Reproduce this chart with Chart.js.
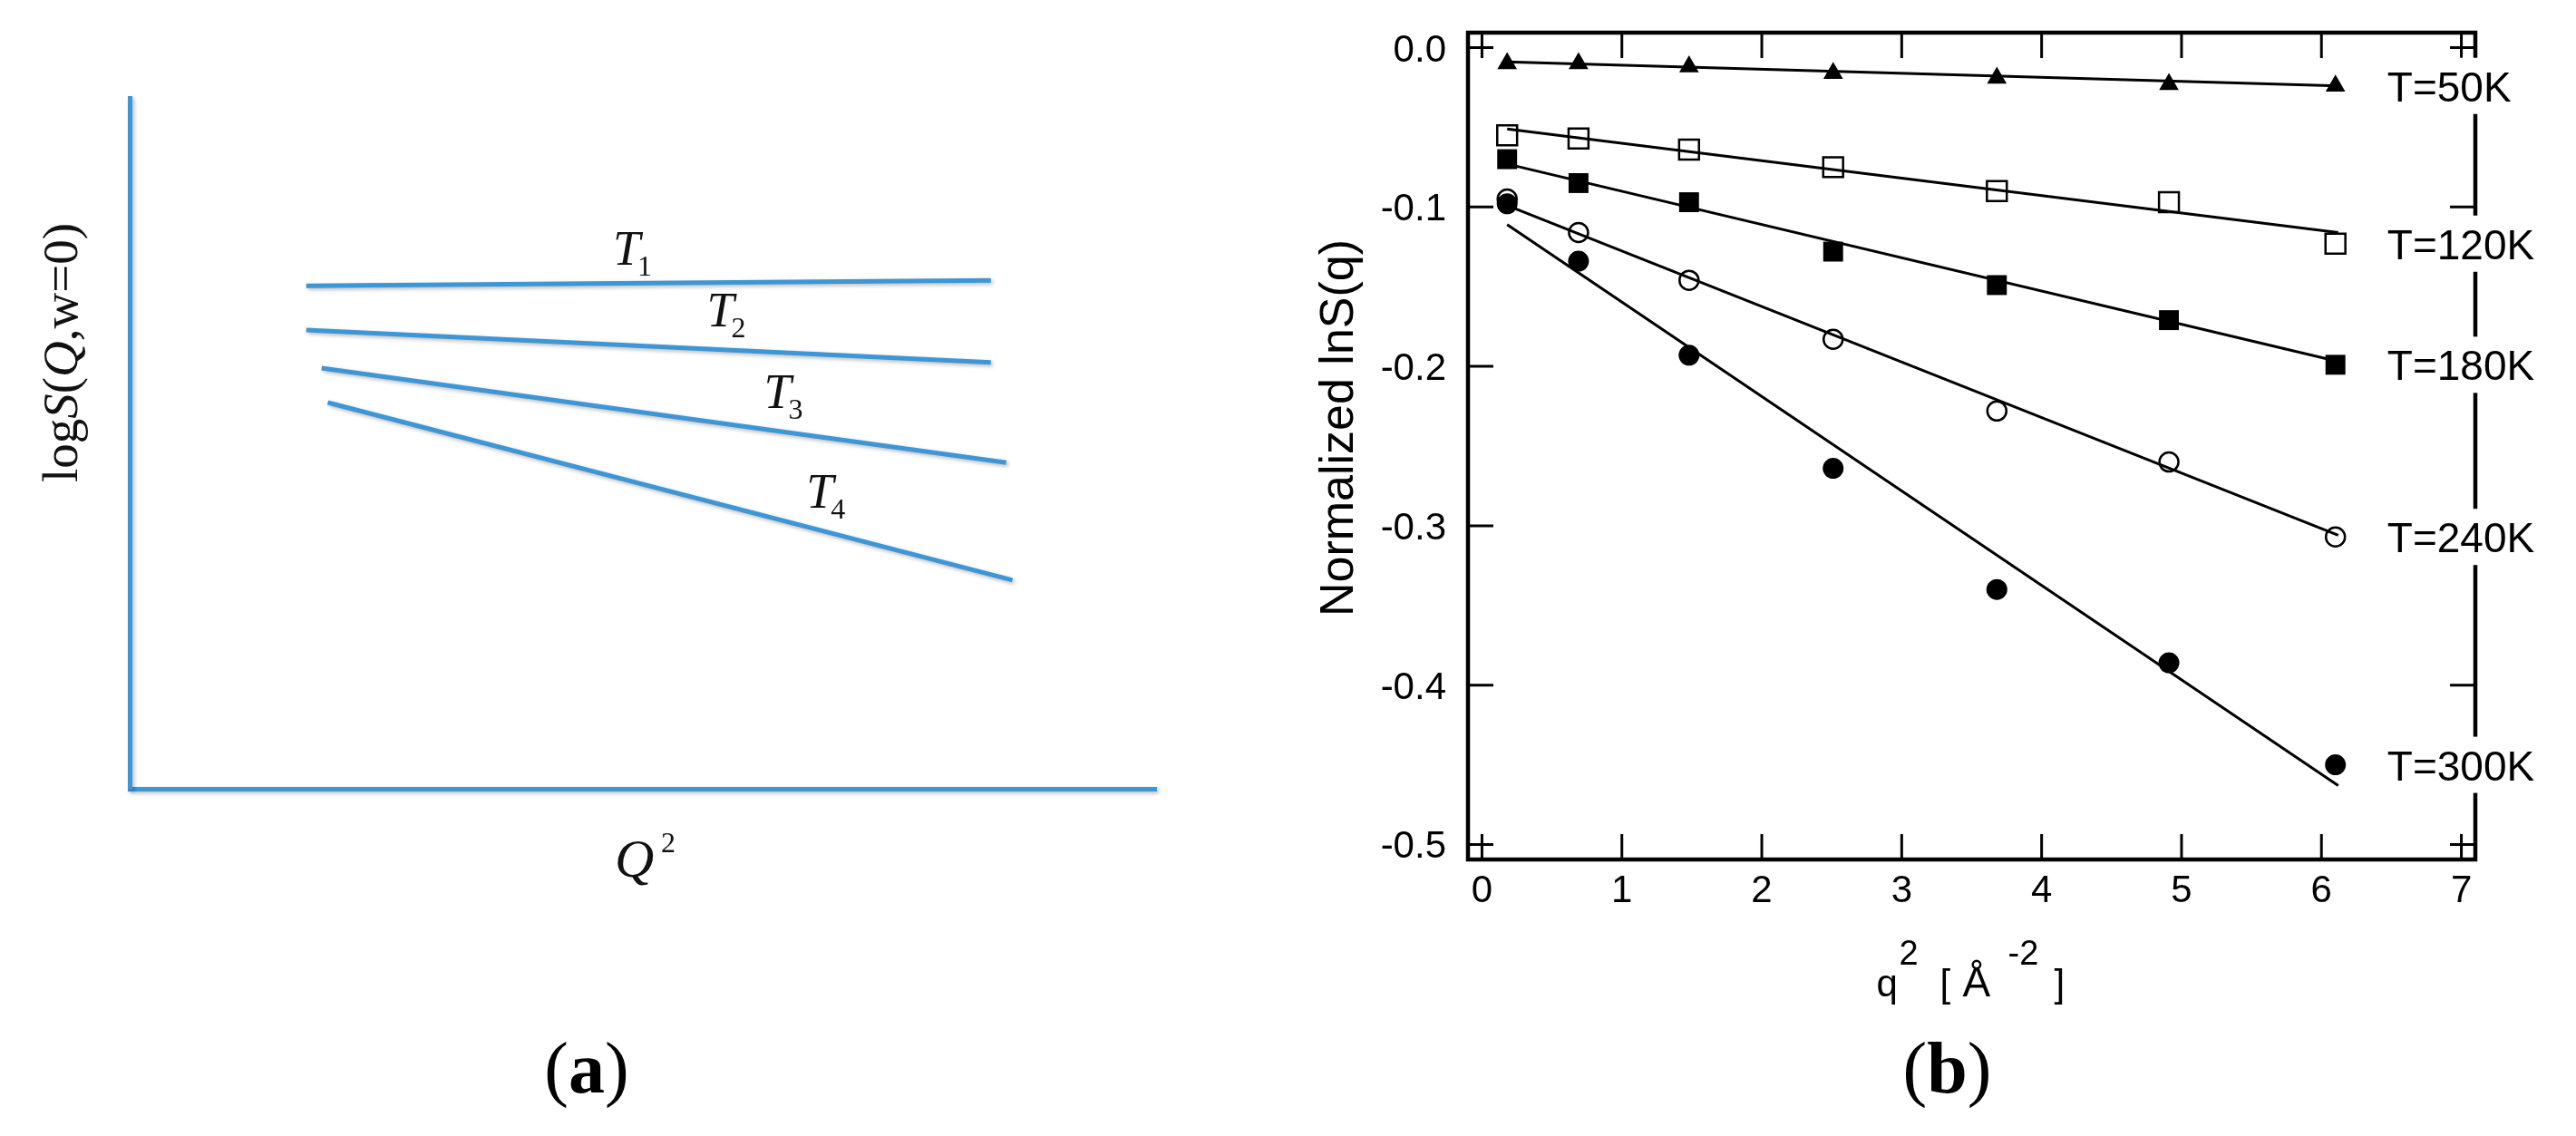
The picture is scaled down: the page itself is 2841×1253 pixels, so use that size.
<!DOCTYPE html>
<html>
<head>
<meta charset="utf-8">
<script src="https://cdn.jsdelivr.net/npm/chart.js@4.4.1/dist/chart.umd.min.js"></script>
<style>
html, body { margin:0; padding:0; background:#fff; }
#quadro { position:relative; width:2841px; height:1253px; overflow:hidden; background:#fff; }
#esquema { position:absolute; left:0; top:0; }
#grafico { position:absolute; left:1420px; top:0; }
</style>
</head>
<body>
<div id="quadro">
  <canvas id="esquema" width="1420" height="1253"></canvas>
  <canvas id="grafico" width="1421" height="1253"></canvas>
</div>
<script>
// --- Painel (a): esquema (coordenadas normalizadas 0..1) ---
const esquemaNomes   = ['1', '2', '3', '4'];
const esquemaInicioX = [0.172, 0.172, 0.187, 0.193];
const esquemaInicioY = [0.728, 0.664, 0.609, 0.559];
const esquemaFimX    = [0.839, 0.839, 0.854, 0.860];
const esquemaFimY    = [0.736, 0.617, 0.472, 0.302];

// --- Painel (b): dados medidos ---
const q2 = [0.18, 0.69, 1.48, 2.51, 3.68, 4.91, 6.10];
const temperaturas = ['T=50K', 'T=120K', 'T=180K', 'T=240K', 'T=300K'];
const lnS50  = [-0.010, -0.010, -0.012, -0.016, -0.019, -0.023, -0.024];
const lnS120 = [-0.055, -0.057, -0.064, -0.075, -0.090, -0.097, -0.123];
const lnS180 = [-0.070, -0.085, -0.097, -0.128, -0.149, -0.171, -0.199];
const lnS240 = [-0.095, -0.116, -0.146, -0.183, -0.228, -0.260, -0.307];
const lnS300 = [-0.098, -0.134, -0.193, -0.264, -0.340, -0.386, -0.450];

// retas de ajuste (extremos)
const ajusteX   = [0.18, 6.12];
const ajuste50  = [-0.009, -0.024];
const ajuste120 = [-0.051, -0.116];
const ajuste180 = [-0.073, -0.197];
const ajuste240 = [-0.099, -0.306];
const ajuste300 = [-0.111, -0.463];

const ticksX = [0, 1, 2, 3, 4, 5, 6, 7];
const ticksY = [0.0, -0.1, -0.2, -0.3, -0.4, -0.5];

const fonteSans  = '"Liberation Sans", Arial, sans-serif';
const fonteSerif = '"Liberation Serif", "Times New Roman", serif';
const azul = '#3d96d6';

function pontos(xs, ys) {
    return xs.map((v, i) => ({x: v, y: ys[i]}));
}

function rotuloPainel(ctx, letra, cx, base) {
    const normal = '80px ' + fonteSerif, negrito = 'bold 80px ' + fonteSerif;
    ctx.font = normal; const w1 = ctx.measureText('(').width;
    ctx.font = negrito; const w2 = ctx.measureText(letra).width;
    let x = cx - (2 * w1 + w2) / 2;
    ctx.textAlign = 'left';
    ctx.font = normal; ctx.fillText('(', x, base); x += w1;
    ctx.font = negrito; ctx.fillText(letra, x, base); x += w2;
    ctx.font = normal; ctx.fillText(')', x, base);
}

// --- Grafico (a) ---
const sombraPlugin = {
    id: 'sombra',
    beforeDraw(chart) {
        const ctx = chart.ctx;
        ctx.save();
        ctx.shadowColor = 'rgba(0,0,0,0.28)';
        ctx.shadowBlur = 4;
        ctx.shadowOffsetX = 2;
        ctx.shadowOffsetY = 2;
    },
    afterDraw(chart) {
        chart.ctx.restore();
    }
};

const textoEsquemaPlugin = {
    id: 'textoEsquema',
    afterDraw(chart) {
        const {ctx, chartArea: a, scales: {x, y}} = chart;
        const fracRotulo = [0.468, 0.605, 0.666, 0.719];
        const acima = [20, 26, 25, 25];
        ctx.save();
        ctx.fillStyle = '#111';
        ctx.textBaseline = 'alphabetic';
        esquemaNomes.forEach((n, i) => {
            const x0 = x.getPixelForValue(esquemaInicioX[i]), y0 = y.getPixelForValue(esquemaInicioY[i]);
            const x1 = x.getPixelForValue(esquemaFimX[i]), y1 = y.getPixelForValue(esquemaFimY[i]);
            const f = fracRotulo[i];
            const px = x0 + (x1 - x0) * f;
            const py = y0 + (y1 - y0) * f - acima[i];
            ctx.font = 'italic 54px ' + fonteSerif;
            ctx.textAlign = 'center';
            ctx.fillText('T', px, py);
            const wT = ctx.measureText('T').width;
            ctx.font = '32px ' + fonteSerif;
            ctx.textAlign = 'left';
            ctx.fillText(n, px + wT / 2 - 3, py + 12);
        });

        // titulo do eixo y: logS(Q,w=0)
        const partes = [['log', ''], ['S', 'italic '], ['(', ''], ['Q', 'italic '], [',w=0)', '']];
        const tam = '55px ';
        let total = 0;
        partes.forEach(p => { ctx.font = p[1] + tam + fonteSerif; total += ctx.measureText(p[0]).width; });
        ctx.save();
        ctx.translate(a.left - 58, a.top + 281);
        ctx.rotate(-Math.PI / 2);
        ctx.textAlign = 'left';
        let xx = -total / 2;
        partes.forEach(p => {
            ctx.font = p[1] + tam + fonteSerif;
            ctx.fillText(p[0], xx, 0);
            xx += ctx.measureText(p[0]).width;
        });
        ctx.restore();

        // titulo do eixo x: Q^2
        ctx.textAlign = 'left';
        ctx.font = 'italic 60px ' + fonteSerif;
        ctx.fillText('Q', a.left + 535, a.bottom + 97);
        ctx.font = '32px ' + fonteSerif;
        ctx.fillText('2', a.left + 586, a.bottom + 70);

        ctx.fillStyle = '#000';
        rotuloPainel(ctx, 'a', a.left + 504, a.bottom + 335);
        ctx.restore();
    }
};

const conjuntosEsquema = esquemaNomes.map((n, i) => ({
    label: 'T' + n,
    data: pontos([esquemaInicioX[i], esquemaFimX[i]], [esquemaInicioY[i], esquemaFimY[i]]),
    showLine: true,
    pointRadius: 0,
    borderColor: azul,
    borderWidth: 5
}));

new Chart(document.getElementById('esquema'), {
    type: 'scatter',
    data: { datasets: conjuntosEsquema },
    options: {
        responsive: false,
        animation: false,
        devicePixelRatio: 1,
        layout: { padding: { left: 0, right: 145, top: 108, bottom: 0 } },
        plugins: { legend: { display: false }, tooltip: { enabled: false } },
        scales: {
            x: {
                type: 'linear', min: 0, max: 1,
                grid: { display: false },
                ticks: { display: false },
                border: { display: true, color: azul, width: 5 },
                afterFit(s) { s.height = 383; }
            },
            y: {
                type: 'linear', min: 0, max: 1,
                grid: { display: false },
                ticks: { display: false },
                border: { display: true, color: azul, width: 5 },
                afterFit(s) { s.width = 143; }
            }
        }
    },
    plugins: [sombraPlugin, textoEsquemaPlugin]
});

// --- Grafico (b) ---
const series  = [lnS50, lnS120, lnS180, lnS240, lnS300];
const ajustes = [ajuste50, ajuste120, ajuste180, ajuste240, ajuste300];
const marcadores = [
    { pointStyle: 'triangle', pointRadius: 12.5, pointBackgroundColor: '#000', pointBorderWidth: 0 },
    { pointStyle: 'rect', pointRadius: 15.5, pointBackgroundColor: 'rgba(0,0,0,0)', pointBorderWidth: 2.5 },
    { pointStyle: 'rect', pointRadius: 15.5, pointBackgroundColor: '#000', pointBorderWidth: 0 },
    { pointStyle: 'circle', pointRadius: 10.5, pointBackgroundColor: 'rgba(0,0,0,0)', pointBorderWidth: 2.5 },
    { pointStyle: 'circle', pointRadius: 11.5, pointBackgroundColor: '#000', pointBorderWidth: 0 }
];
const posRotuloX = 6.47;

const conjuntos = [];
series.forEach((s, i) => {
    conjuntos.push(Object.assign({
        label: temperaturas[i],
        data: pontos(q2, s),
        showLine: false,
        borderColor: '#000',
        pointBorderColor: '#000'
    }, marcadores[i]));
    conjuntos.push({
        label: temperaturas[i] + ' ajuste',
        data: pontos(ajusteX, ajustes[i]),
        showLine: true,
        pointRadius: 0,
        borderColor: '#000',
        borderWidth: 3
    });
});

const molduraPlugin = {
    id: 'moldura',
    afterDraw(chart) {
        const {ctx, chartArea: a, scales: {x, y}} = chart;
        ctx.save();
        ctx.strokeStyle = '#000';
        ctx.lineWidth = 4.5;
        ctx.strokeRect(a.left, a.top, a.right - a.left, a.bottom - a.top);

        // marcas para dentro nos quatro lados
        ctx.lineWidth = 3;
        ctx.beginPath();
        ticksX.forEach(v => {
            const px = x.getPixelForValue(v);
            ctx.moveTo(px, a.bottom); ctx.lineTo(px, a.bottom - 28);
            ctx.moveTo(px, a.top); ctx.lineTo(px, a.top + 28);
        });
        ticksY.forEach(v => {
            const py = y.getPixelForValue(v);
            ctx.moveTo(a.left, py); ctx.lineTo(a.left + 28, py);
            ctx.moveTo(a.right, py); ctx.lineTo(a.right - 28, py);
        });
        ctx.stroke();

        ctx.fillStyle = '#000';
        ctx.textBaseline = 'alphabetic';
        ctx.font = '42px ' + fonteSans;
        ctx.textAlign = 'center';
        ticksX.forEach(v => ctx.fillText(String(v), x.getPixelForValue(v), a.bottom + 47));
        ctx.textAlign = 'right';
        ticksY.forEach(v => ctx.fillText(v.toFixed(1), a.left - 24, y.getPixelForValue(v) + 15));

        // rotulos das temperaturas, com fundo branco sobre a moldura
        ctx.font = '46px ' + fonteSans;
        ctx.textAlign = 'left';
        temperaturas.forEach((t, i) => {
            const s = series[i];
            const px = x.getPixelForValue(posRotuloX);
            const py = y.getPixelForValue(s[s.length - 1]);
            const w = ctx.measureText(t).width;
            ctx.fillStyle = '#fff';
            ctx.fillRect(px - 8, py - 31, w + 16, 62);
            ctx.fillStyle = '#000';
            ctx.fillText(t, px, py + 17);
        });

        // titulo eixo y
        ctx.save();
        ctx.translate(a.left - 127, (a.top + a.bottom) / 2 - 20);
        ctx.rotate(-Math.PI / 2);
        ctx.textAlign = 'center';
        ctx.font = '52px ' + fonteSans;
        ctx.fillText('Normalized lnS(q)', 0, 0, 466);
        ctx.restore();

        // titulo eixo x: q^2 [Å^-2]
        const cx = (a.left + a.right) / 2, by = a.bottom + 151;
        ctx.textAlign = 'left';
        ctx.font = '42px ' + fonteSans;
        ctx.fillText('q', cx - 105, by);
        ctx.fillText('[', cx - 35, by);
        ctx.fillText(']', cx + 91, by);
        ctx.font = '46px ' + fonteSans;
        ctx.fillText('Å', cx - 10, by);
        ctx.font = '38px ' + fonteSans;
        ctx.fillText('2', cx - 80, by - 35);
        ctx.fillText('-2', cx + 40, by - 35);

        rotuloPainel(ctx, 'b', cx - 27, a.bottom + 257);
        ctx.restore();
    }
};

new Chart(document.getElementById('grafico'), {
    type: 'scatter',
    data: { datasets: conjuntos },
    options: {
        responsive: false,
        animation: false,
        devicePixelRatio: 1,
        layout: { padding: { left: 0, right: 111, top: 36, bottom: 0 } },
        plugins: { legend: { display: false }, tooltip: { enabled: false } },
        scales: {
            x: {
                type: 'linear', min: -0.1, max: 7.1,
                grid: { display: false },
                border: { display: false },
                ticks: { display: false },
                afterBuildTicks(s) { s.ticks = ticksX.map(v => ({ value: v })); },
                afterFit(s) { s.height = 305; }
            },
            y: {
                type: 'linear', min: -0.5094, max: 0.0094,
                grid: { display: false },
                border: { display: false },
                ticks: { display: false },
                afterBuildTicks(s) { s.ticks = ticksY.map(v => ({ value: v })); },
                afterFit(s) { s.width = 199; }
            }
        }
    },
    plugins: [molduraPlugin]
});
</script>
</body>
</html>
